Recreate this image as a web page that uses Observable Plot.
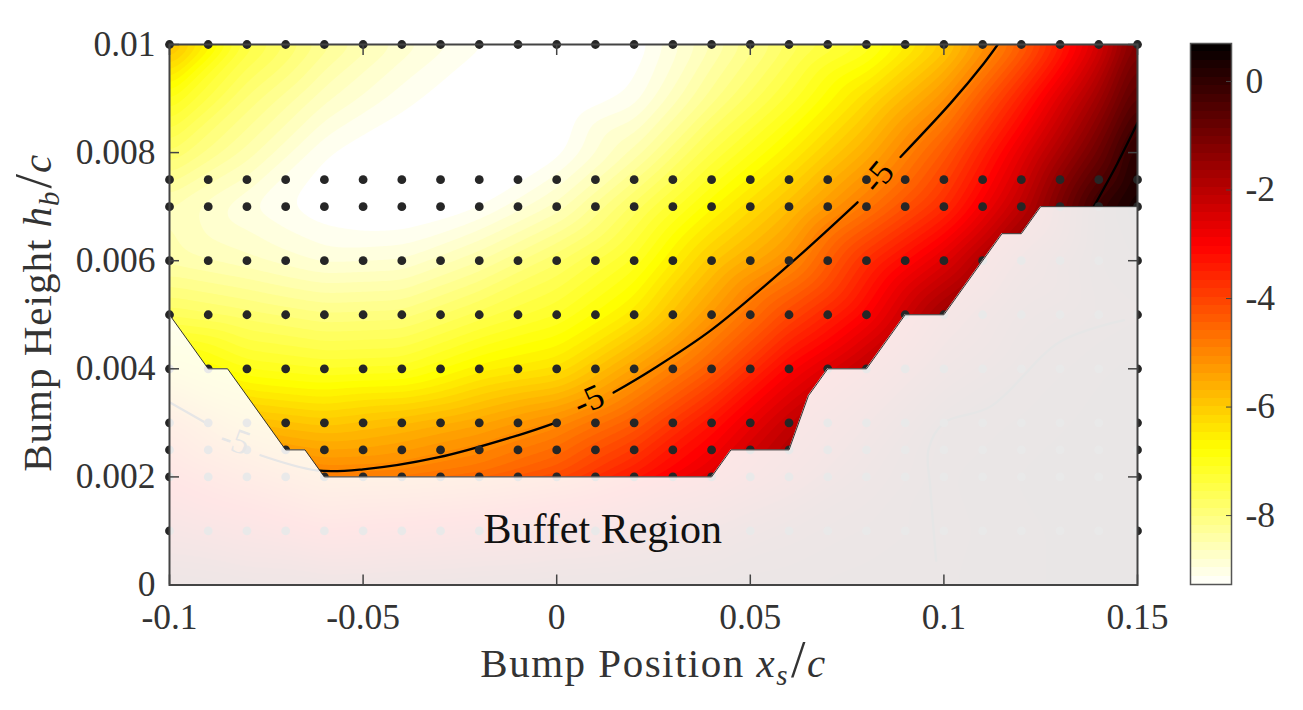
<!DOCTYPE html>
<html>
<head>
<meta charset="utf-8">
<script src="https://cdn.jsdelivr.net/npm/d3@7"></script>
<script src="https://cdn.jsdelivr.net/npm/@observablehq/plot@0.6"></script>
<style>
  body { margin: 0; background: #fff; }
  #wrap { position: relative; width: 1303px; height: 710px; overflow: hidden; }
  #wrap svg { position: absolute; left: 0; top: 0; }
</style>
</head>
<body>
<div id="wrap"></div>
<script>
const serif = "'Liberation Serif', serif";
const inkColor = "#333";

// field, rows from top (0.01) to bottom (0)
const gridX = [-0.1, -0.08, -0.06, -0.04, -0.02, 0, 0.02, 0.04, 0.06, 0.08, 0.1, 0.12, 0.14, 0.15];
const gridY = [0.01, 0.009, 0.008, 0.007, 0.006, 0.005, 0.004, 0.003, 0.002, 0.001, 0];
const gridValues = [
  [-5.6, -7.3, -8.1, -8.7, -9.1, -9.3, -9.25, -8.5, -7.7, -7.1, -6.0, -4.4, -2.4, -1.0],
  [-6.9, -7.9, -8.6, -9.05, -9.3, -9.35, -9.05, -8.1, -7.2, -6.2, -5.1, -3.4, -1.55, -0.4],
  [-7.7, -8.4, -9.1, -9.3, -9.35, -9.2, -8.45, -7.4, -6.5, -5.5, -4.25, -2.6, -0.8, 0.3],
  [-8.5, -8.95, -9.25, -9.35, -9.15, -8.6, -7.65, -6.65, -5.75, -4.7, -3.6, -2.0, 0.05, 0.6],
  [-8.4, -8.6, -8.85, -8.8, -8.35, -7.75, -7.05, -5.9, -5.05, -3.6, -2.5, -1.05, 0.1, 0.25],
  [-7.6, -7.8, -8.0, -7.95, -7.5, -7.1, -6.4, -5.2, -4.0, -2.95, -1.5, -0.45, -0.05, 0.05],
  [-6.4, -6.95, -7.1, -7.05, -6.55, -6.3, -5.35, -4.3, -2.95, -2.0, -0.85, -0.1, 0.2, 0.3],
  [-4.3, -5.7, -5.9, -5.7, -5.4, -5.0, -4.3, -3.2, -2.1, -1.2, -0.05, 0.1, 0.3, 0.35],
  [-3.1, -4.0, -4.85, -4.8, -4.55, -4.1, -3.3, -2.5, -1.55, -0.6, 0.05, 0.25, 0.35, 0.4],
  [-1.7, -2.3, -3.0, -2.7, -2.4, -2.0, -1.6, -1.1, -0.5, -0.2, 0, 0.2, 0.3, 0.35],
  [-0.4, -0.6, -0.7, -0.6, -0.5, -0.4, -0.3, -0.2, -0.1, 0, 0.05, 0.2, 0.3, 0.35]
];

// sample points
const sampleX = [-0.1, -0.09, -0.08, -0.07, -0.06, -0.05, -0.04, -0.03, -0.02, -0.01, 0, 0.01, 0.02,
  0.03, 0.04, 0.05, 0.06, 0.07, 0.08, 0.09, 0.1, 0.11, 0.12, 0.13, 0.14, 0.15];
const sampleY = [0.01, 0.0075, 0.007, 0.006, 0.005, 0.004, 0.003, 0.0025, 0.002, 0.001];

// top of the buffet region
const buffetX = [-0.1, -0.09, -0.085, -0.07, -0.065, -0.06, 0.04, 0.045, 0.06, 0.065, 0.07, 0.08, 0.09, 0.1, 0.115, 0.12, 0.125, 0.15];
const buffetY = [0.005, 0.004, 0.004, 0.0025, 0.0025, 0.002, 0.002, 0.0025, 0.0025, 0.0035, 0.004, 0.004, 0.005, 0.005, 0.0065, 0.0065, 0.007, 0.007];

// labelled contour lines, with gaps where the labels sit
const contourLines = [
  { id: "a", x: [-0.1, -0.0907], y: [0.00338, 0.003] },
  { id: "b", x: [-0.0765, -0.062, -0.05, -0.0307, -0.01, 0], y: [0.0024, 0.00212, 0.00214, 0.00236, 0.00277, 0.00301] },
  { id: "c", x: [0.0147, 0.0243, 0.0398, 0.0604, 0.0777], y: [0.00356, 0.00397, 0.00471, 0.00595, 0.00708] },
  { id: "d", x: [0.0888, 0.1018, 0.1103, 0.1139], y: [0.00792, 0.00892, 0.00965, 0.01] },
  { id: "e", x: [0.15, 0.1448, 0.1387], y: [0.00855, 0.0078, 0.007] },
  { id: "f", x: [0.1465, 0.13, 0.112, 0.1, 0.096, 0.0965, 0.098], y: [0.0049, 0.0045, 0.0033, 0.003, 0.0025, 0.0018, 0.00045] }
];
const contourLabelX = [-0.083, 0.0083, 0.0829];
const contourLabelY = [0.00268, 0.00342, 0.00755];
const contourLabelAngle = [20, -24, -50];

const xTicks = [-0.1, -0.05, 0, 0.05, 0.1, 0.15];
const yTicks = [0, 0.002, 0.004, 0.006, 0.008, 0.01];
const colorTicks = [0, -2, -4, -6, -8];

const colorMin = -9.27;
const colorMax = 0.7;
const levelCount = 64;
const levelStep = (colorMax - colorMin) / levelCount;
const levels = d3.range(levelCount).map((i) => colorMin + i * levelStep);

// reversed "hot" map
const colorScale = {
  type: "linear",
  domain: [colorMin, -6.78, -3.04, colorMax],
  range: ["#ffffff", "#ffff00", "#ff0000", "#000000"],
  clamp: true
};

const cells = gridY.flatMap((y, j) => gridX.map((x, i) => ({ x, y, v: gridValues[j][i] })));
const samples = d3.cross(sampleX, sampleY);
const lineRows = contourLines.flatMap((l) => l.x.map((x, i) => ({ id: l.id, x, y: l.y[i] })));

const chart = Plot.plot({
  width: 1303,
  height: 710,
  marginLeft: 169,
  marginRight: 166,
  marginTop: 44,
  marginBottom: 125.5,
  style: { fontFamily: serif, background: "transparent", overflow: "visible" },
  x: { domain: [-0.1, 0.15] },
  y: { domain: [0, 0.01] },
  color: colorScale,
  marks: [
    Plot.contour(cells, {
      x: "x",
      y: "y",
      fill: "v",
      thresholds: levels,
      interpolate: "barycentric",
      blur: 4,
      stroke: "none"
    }),
    Plot.line(lineRows, { x: "x", y: "y", z: "id", stroke: "#000", strokeWidth: 2.3, clip: true, curve: "catmull-rom" }),
    Plot.dot(samples, { x: "0", y: "1", r: 4.4, fill: "#262626" }),
    Plot.text(contourLabelX, {
      x: contourLabelX,
      y: contourLabelY,
      rotate: contourLabelAngle,
      text: () => "-5",
      fontSize: 35,
      fill: "#000"
    }),
    Plot.areaY(buffetY, { x: buffetX, y: buffetY, fill: "#fff", fillOpacity: 0.9 }),
    Plot.lineY(buffetY, { x: buffetX, y: buffetY, stroke: "#333", strokeWidth: 1 }),
    Plot.text(["Buffet Region"], { x: [0.0119], y: [0.00103], fontSize: 42, fill: "#111", letterSpacing: 0.9 }),
    Plot.frame({ stroke: "#444", strokeWidth: 2 }),
    Plot.axisX(xTicks, {
      anchor: "bottom",
      label: null,
      tickSize: -10,
      tickPadding: 29,
      tickFormat: (d) => String(d),
      fontSize: 35.5,
      stroke: "#444",
      fill: inkColor,
      strokeWidth: 1.5
    }),
    Plot.axisX(xTicks, { anchor: "top", label: null, tickSize: -10, stroke: "#444", fill: "none", strokeWidth: 1.5 }),
    Plot.axisY(yTicks, {
      anchor: "left",
      label: null,
      tickSize: -10,
      tickPadding: 24,
      tickFormat: (d) => String(d),
      fontSize: 35.5,
      stroke: "#444",
      fill: inkColor,
      strokeWidth: 1.5
    }),
    Plot.axisY(yTicks, { anchor: "right", label: null, tickSize: -10, stroke: "#444", fill: "none", strokeWidth: 1.5 }),
    Plot.text(["x"], { frameAnchor: "bottom", dy: 92, fontSize: 41, fill: inkColor, className: "x-title", text: (d) => d }),
    Plot.text(["y"], { frameAnchor: "left", textAnchor: "middle", dx: -132, dy: -2, rotate: -90, fontSize: 41, fill: inkColor, className: "y-title", text: (d) => d })
  ]
});

const colorBar = Plot.plot({
  width: 1303,
  height: 710,
  marginLeft: 1190,
  marginRight: 72,
  marginTop: 43,
  marginBottom: 126,
  style: { fontFamily: serif, background: "transparent", overflow: "visible" },
  x: { domain: [0, 1], axis: null },
  y: { domain: [colorMin, colorMax] },
  color: colorScale,
  marks: [
    Plot.rect(levels, {
      x1: 0,
      x2: 1,
      y1: (d) => d,
      y2: (d) => d + levelStep,
      fill: (d) => d + levelStep / 2,
      shapeRendering: "crispEdges"
    }),
    Plot.frame({ stroke: "#555", strokeWidth: 1.5 }),
    Plot.axisY(colorTicks, {
      anchor: "right",
      label: null,
      tickSize: -6,
      tickPadding: 20,
      tickFormat: (d) => String(d),
      fontSize: 35.5,
      stroke: "#444",
      fill: inkColor
    })
  ]
});

// axis titles need italics and a subscript, so build them from tspans
function mathTitle(svg, cls, parts, spacing) {
  const text = d3.select(svg).select(`.${cls} text`).text(null).attr("letter-spacing", spacing);
  let shift = 0;
  for (const [str, kind] of parts) {
    const sub = kind === "sub";
    const t = text.append("tspan").text(str);
    if (kind === "it" || sub) t.attr("font-style", "italic");
    if (sub) t.attr("font-size", 29);
    if (kind === "slash") t.attr("font-size", 52).attr("dx", 2);
    const next = sub ? 8 : 0;
    if (next !== shift) t.attr("dy", next - shift);
    shift = next;
  }
}
mathTitle(chart, "x-title", [["Bump Position ", ""], ["x", "it"], ["s", "sub"], ["/", "slash"], ["c", "it"]], 1.5);
mathTitle(chart, "y-title", [["Bump Height ", ""], ["h", "it"], ["b", "sub"], ["/", "slash"], ["c", "it"]], 1);

document.getElementById("wrap").append(chart, colorBar);
</script>
</body>
</html>
